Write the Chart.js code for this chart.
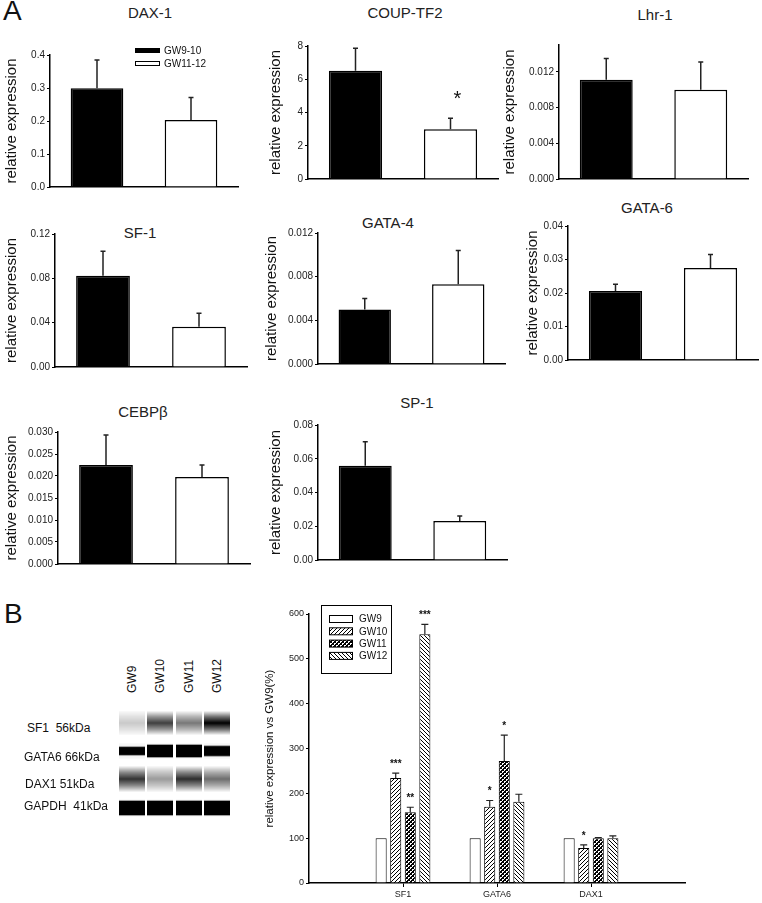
<!DOCTYPE html>
<html>
<head>
<meta charset="utf-8">
<script src="https://cdn.jsdelivr.net/npm/chart.js@4"></script>
<style>
  body { margin: 0; background: #fff; }
  #page { position: relative; width: 762px; height: 903px; overflow: hidden; font-family: 'Liberation Sans', Arial, sans-serif; color: #111; }
  #page canvas, #page .t { position: absolute; }
  .t { white-space: pre; }
  .title { width: 200px; text-align: center; font-size: 15px; line-height: 18px; color: #222; }
  .letter { font-size: 28px; line-height: 28px; }
  .lane { writing-mode: vertical-rl; transform: rotate(180deg); font-size: 12px; line-height: 12px; height: 38px; }
  .row { font-size: 12px; line-height: 14px; }
</style>
</head>
<body>
<div id="page">
  <div class="t letter" style="left:3px;top:-3px">A</div>
  <div class="t letter" style="left:4px;top:600px">B</div>
</div>
<script>
// ---- panel A data ----
const groupsA = ['GW9-10', 'GW11-12'];
const genesA = ['DAX-1', 'COUP-TF2', 'Lhr-1', 'SF-1', 'GATA-4', 'GATA-6', 'CEBPβ', 'SP-1'];
const meanA = [
  [0.299, 0.203], [6.51, 2.99], [0.0111, 0.0100], [0.0824, 0.0364],
  [0.0050, 0.0073], [0.0206, 0.0275], [0.0225, 0.0198], [0.0559, 0.0231]
];
const semA = [
  [0.086, 0.068], [1.35, 0.66], [0.0024, 0.0031], [0.0220, 0.0120],
  [0.0010, 0.0031], [0.0020, 0.0040], [0.0068, 0.0027], [0.0142, 0.0030]
];
const sigA = [['', ''], ['', '*'], ['', ''], ['', ''], ['', ''], ['', ''], ['', ''], ['', '']];
const ticksA = [
  [0, 0.1, 0.2, 0.3, 0.4], [0, 2, 4, 6, 8], [0, 0.004, 0.008, 0.012], [0, 0.04, 0.08, 0.12],
  [0, 0.004, 0.008, 0.012], [0, 0.01, 0.02, 0.03, 0.04], [0, 0.005, 0.010, 0.015, 0.020, 0.025, 0.030],
  [0, 0.02, 0.04, 0.06, 0.08]
];
const maxA = [0.4, 8, 0.015, 0.12, 0.012, 0.04, 0.030, 0.08];
const decA = [1, 0, 3, 2, 3, 2, 3, 2];

// ---- panel B data ----
const categoriesB = ['SF1', 'GATA6', 'DAX1'];
const seriesB = ['GW9', 'GW10', 'GW11', 'GW12'];
const gw9 = [100, 100, 100];
const gw10 = [234, 170, 78];
const gw11 = [158, 272, 100];
const gw12 = [555, 181, 100];
const semGw9 = [0, 0, 0];
const semGw10 = [11, 14, 7];
const semGw11 = [11, 58, 1.5];
const semGw12 = [22, 17, 5];
const sigGw9 = ['', '', ''];
const sigGw10 = ['***', '*', '*'];
const sigGw11 = ['**', '*', ''];
const sigGw12 = ['***', '', ''];
const ticksB = [0, 100, 200, 300, 400, 500, 600];

// ---- blot ----
const blotLanes = ['GW9', 'GW10', 'GW11', 'GW12'];
const blotRows = ['SF1  56kDa', 'GATA6 66kDa', 'DAX1 51kDa', 'GAPDH  41kDa'];
const blotStrength = [[0.12, 0.72, 0.48, 1], [0.65, 1, 1, 0.8], [0.78, 0.32, 0.8, 0.52], [1, 1, 1, 1]];

const FONT = "'Liberation Sans', Arial, sans-serif";
Chart.defaults.font.family = FONT;
const page = document.getElementById('page');

function addText(cls, text, left, top) {
  const d = document.createElement('div');
  d.className = 't ' + cls;
  d.textContent = text;
  d.style.left = left + 'px';
  d.style.top = top + 'px';
  page.appendChild(d);
  return d;
}

function addCanvas(left, top, w, h) {
  const c = document.createElement('canvas');
  c.width = w; c.height = h;
  c.style.left = left + 'px'; c.style.top = top + 'px';
  c.style.width = w + 'px'; c.style.height = h + 'px';
  page.appendChild(c);
  return c;
}

// whiskers (upper only) and significance marks
const errorBars = {
  id: 'errorBars',
  afterDatasetsDraw(chart, args, opts) {
    const ctx = chart.ctx, ys = chart.scales.y;
    ctx.save();
    chart.data.datasets.forEach((ds, di) => {
      chart.getDatasetMeta(di).data.forEach((bar, i) => {
        const v = ds.data[i];
        if (v == null) return;
        const e = ds.errors ? ds.errors[i] || 0 : 0;
        const top = ys.getPixelForValue(v + e);
        if (e > 0) {
          ctx.strokeStyle = '#222';
          ctx.lineWidth = opts.lw;
          ctx.beginPath();
          ctx.moveTo(bar.x, bar.y);
          ctx.lineTo(bar.x, top);
          ctx.moveTo(bar.x - opts.cap, top);
          ctx.lineTo(bar.x + opts.cap, top);
          ctx.stroke();
        }
        const s = ds.sig ? ds.sig[i] : '';
        if (s) {
          ctx.fillStyle = '#111';
          ctx.font = opts.sigFont;
          ctx.textAlign = 'center';
          ctx.textBaseline = 'middle';
          ctx.fillText(s, bar.x + opts.sigDx, top - opts.sigGap);
        }
      });
    });
    ctx.restore();
  }
};

// legend inside DAX-1 panel
const legendA = {
  id: 'legendA',
  afterDraw(chart) {
    const ctx = chart.ctx, a = chart.chartArea;
    const x = a.left + 85, y0 = a.top - 7;
    ctx.save();
    groupsA.forEach((g, k) => {
      const y = y0 + k * 13;
      ctx.fillStyle = k === 0 ? '#000' : '#fff';
      ctx.fillRect(x, y, 25, 5);
      ctx.strokeStyle = '#000';
      ctx.lineWidth = 1;
      ctx.strokeRect(x + 0.5, y + 0.5, 24, 4);
      ctx.fillStyle = '#111';
      ctx.font = '10px ' + FONT;
      ctx.textBaseline = 'middle';
      ctx.fillText(g, x + 29, y + 3);
    });
    ctx.restore();
  }
};

// panel A layout: title centre, canvas left, axis x, top tick y, zero y, axis right
const boxesA = [
  { tx: 150, ty: 13, L: 3, ax: 50, top: 55, bot: 187, right: 238 },
  { tx: 405, ty: 13, L: 267, ax: 308, top: 46, bot: 179, right: 498 },
  { tx: 655, ty: 15, L: 501, ax: 559, top: 72, bot: 179, right: 748 },
  { tx: 140, ty: 233, L: 3, ax: 55, top: 234, bot: 367, right: 247 },
  { tx: 388, ty: 223, L: 263, ax: 318, top: 233, bot: 364, right: 505 },
  { tx: 647, ty: 208, L: 524, ax: 568, top: 226, bot: 360, right: 758 },
  { tx: 143, ty: 412, L: 3, ax: 58, top: 432, bot: 564, right: 250 },
  { tx: 417, ty: 403, L: 267, ax: 318, top: 425, bot: 560, right: 507 }
];

boxesA.forEach((b, i) => {
  addText('title', genesA[i], b.tx - 100, b.ty - 9);
  const tk = ticksA[i];
  const topTick = tk[tk.length - 1];
  // pixel of the axis maximum
  const maxPx = b.bot - (b.bot - b.top) * maxA[i] / topTick;
  const padTop = 12, padBot = 8, padRight = 3;
  const canvas = addCanvas(b.L, Math.round(maxPx) - padTop, b.right - b.L + padRight, Math.round(b.bot - maxPx) + padTop + padBot);
  new Chart(canvas, {
    type: 'bar',
    data: {
      labels: groupsA,
      datasets: [{
        data: meanA[i],
        errors: semA[i],
        sig: sigA[i],
        backgroundColor: ['#000', '#fff'],
        borderColor: '#000',
        borderWidth: 1.5,
        barPercentage: 0.56,
        categoryPercentage: 1
      }]
    },
    options: {
      responsive: false,
      animation: false,
      layout: { padding: { top: padTop, bottom: padBot, right: padRight, left: 0 } },
      plugins: {
        legend: { display: false },
        tooltip: { enabled: false },
        errorBars: { lw: 1.5, cap: 2.5, sigGap: 19, sigDx: 7, sigFont: '20px ' + FONT }
      },
      scales: {
        x: {
          grid: { display: false, drawTicks: false },
          ticks: { display: false },
          border: { display: true, color: '#000', width: 1.5 }
        },
        y: {
          min: 0,
          max: maxA[i],
          afterBuildTicks: s => { s.ticks = tk.map(v => ({ value: v })); },
          afterFit: s => { s.width = b.ax - b.L; },
          ticks: {
            callback: v => Number(v).toFixed(decA[i]),
            font: { size: 10 },
            color: '#222',
            padding: 2
          },
          grid: { drawOnChartArea: false, drawTicks: true, tickLength: 3, color: '#000', lineWidth: 1 },
          border: { display: true, color: '#000', width: 1.5 },
          title: { display: true, text: 'relative expression', font: { size: 15 }, color: '#111', padding: 0 }
        }
      }
    },
    plugins: i === 0 ? [errorBars, legendA] : [errorBars]
  });
});

// ---- panel B: blot ----
(function drawBlot() {
  const c = addCanvas(100, 700, 150, 125);
  const g = c.getContext('2d');
  const ox = 100, oy = 700;
  const laneX = [119, 147, 176, 204], laneW = 26;
  const rows = [{ y: 711, h: 24, soft: true }, { y: 743, h: 16, soft: false }, { y: 766, h: 26, soft: true }, { y: 799, h: 18, soft: false }];
  rows.forEach((r, ri) => {
    laneX.forEach((lx, li) => {
      const s = blotStrength[ri][li];
      const x = lx - ox, y = r.y - oy;
      // faint halo
      const halo = g.createLinearGradient(0, y, 0, y + r.h);
      halo.addColorStop(0, 'rgba(0,0,0,0.02)');
      halo.addColorStop(0.5, 'rgba(0,0,0,0.1)');
      halo.addColorStop(1, 'rgba(0,0,0,0.02)');
      g.fillStyle = halo;
      g.fillRect(x, y, laneW, r.h);
      if (r.soft) {
        const core = g.createLinearGradient(0, y, 0, y + r.h);
        core.addColorStop(0, 'rgba(0,0,0,0)');
        core.addColorStop(0.25, 'rgba(0,0,0,' + (s * 0.55) + ')');
        core.addColorStop(0.5, 'rgba(0,0,0,' + s + ')');
        core.addColorStop(0.75, 'rgba(0,0,0,' + (s * 0.55) + ')');
        core.addColorStop(1, 'rgba(0,0,0,0)');
        g.fillStyle = core;
        g.fillRect(x, y, laneW, r.h);
      } else {
        const bh = (r.h - 4) * s;
        const by = y + (r.h - bh) / 2;
        g.fillStyle = 'rgba(0,0,0,0.35)';
        g.fillRect(x, by - 1, laneW, bh + 2);
        g.fillStyle = '#000';
        g.fillRect(x, by, laneW, bh);
      }
    });
  });
  blotLanes.forEach((l, k) => addText('lane', l, laneX[k] + laneW / 2 - 6, 655));
  const rowLeft = [27, 24, 25, 24], rowMid = [728, 757, 784, 806];
  blotRows.forEach((r, k) => addText('row', r, rowLeft[k], rowMid[k] - 7));
})();

// ---- panel B: grouped bars ----
function pattern(kind) {
  const c = document.createElement('canvas');
  c.width = 4; c.height = 4;
  const g = c.getContext('2d');
  g.fillStyle = '#fff';
  g.fillRect(0, 0, 4, 4);
  g.fillStyle = '#000';
  for (let i = 0; i < 4; i++) {
    if (kind === 'fwd' || kind === 'cross') g.fillRect(i, 3 - i, 1, 1);
    if (kind === 'back' || kind === 'cross') g.fillRect(i, i, 1, 1);
  }
  if (kind === 'cross') { g.fillRect(0, 2, 1, 1); g.fillRect(2, 0, 1, 1); }
  return g.createPattern(c, 'repeat');
}
const fillsB = ['#fff', pattern('fwd'), pattern('cross'), pattern('back')];
const valsB = [gw9, gw10, gw11, gw12];
const semB = [semGw9, semGw10, semGw11, semGw12];
const sigB = [sigGw9, sigGw10, sigGw11, sigGw12];

const legendB = {
  id: 'legendB',
  afterDraw(chart) {
    const ctx = chart.ctx, a = chart.chartArea;
    const bx = a.left + 12, by = a.top - 9;
    ctx.save();
    ctx.fillStyle = '#fff';
    ctx.fillRect(bx, by, 70, 68);
    ctx.strokeStyle = '#000';
    ctx.lineWidth = 1;
    ctx.strokeRect(bx + 0.5, by + 0.5, 70, 68);
    chart.data.datasets.forEach((ds, k) => {
      const y = a.top + 5 + k * 12.3;
      ctx.fillStyle = ds.backgroundColor;
      ctx.fillRect(a.left + 20, y - 3.5, 23, 7);
      ctx.strokeRect(a.left + 20.5, y - 3.5, 23, 7);
      ctx.fillStyle = '#111';
      ctx.font = '10px ' + FONT;
      ctx.textBaseline = 'middle';
      ctx.fillText(ds.label, a.left + 50, y + 0.5);
    });
    ctx.restore();
  }
};

(function drawB() {
  const L = 263, ax = 309, top = 614, bot = 883, right = 685;
  const padTop = 12, padRight = 6, xH = 20;
  const canvas = addCanvas(L, top - padTop, right - L + padRight, bot - top + padTop + xH);
  const labels = [''].concat(categoriesB, ['']);
  new Chart(canvas, {
    type: 'bar',
    data: {
      labels: labels,
      datasets: seriesB.map((name, k) => ({
        label: name,
        data: [null].concat(valsB[k], [null]),
        errors: [null].concat(semB[k], [null]),
        sig: [''].concat(sigB[k], ['']),
        backgroundColor: fillsB[k],
        borderColor: '#000',
        borderWidth: 1,
        barPercentage: 0.76,
        categoryPercentage: 0.62
      }))
    },
    options: {
      responsive: false,
      animation: false,
      layout: { padding: { top: padTop, bottom: 0, right: padRight, left: 0 } },
      plugins: {
        legend: { display: false },
        tooltip: { enabled: false },
        errorBars: { lw: 1.2, cap: 3.5, sigGap: 9, sigDx: 0, sigFont: 'bold 10px ' + FONT }
      },
      scales: {
        x: {
          offset: false,
          afterFit: s => { s.height = xH; },
          grid: {
            offset: false,
            drawOnChartArea: false, drawTicks: true, tickLength: 4,
            color: c => (c.tick && c.tick.label ? '#000' : 'rgba(0,0,0,0)')
          },
          ticks: { font: { size: 9 }, color: '#222', padding: 2, maxRotation: 0, autoSkip: false },
          border: { display: true, color: '#000', width: 1.5 }
        },
        y: {
          min: 0,
          max: 600,
          afterBuildTicks: s => { s.ticks = ticksB.map(v => ({ value: v })); },
          afterFit: s => { s.width = ax - L; },
          ticks: { font: { size: 9 }, color: '#222', padding: 2 },
          grid: { drawOnChartArea: false, drawTicks: true, tickLength: 3, color: '#000', lineWidth: 1 },
          border: { display: true, color: '#000', width: 1.5 },
          title: { display: true, text: 'relative expression vs GW9(%)', font: { size: 11.5 }, color: '#111', padding: 0 }
        }
      }
    },
    plugins: [errorBars, legendB]
  });
})();
</script>
</body>
</html>
